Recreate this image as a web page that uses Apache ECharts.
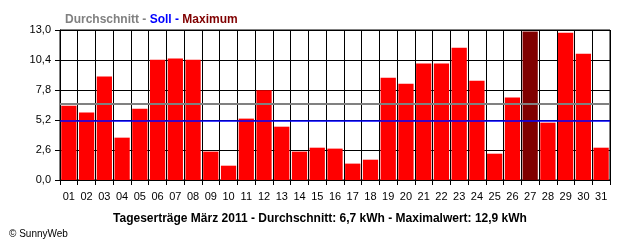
<!DOCTYPE html>
<html><head><meta charset="utf-8">
<script src="https://cdn.jsdelivr.net/npm/echarts@6/dist/echarts.min.js"></script>
<style>html,body{margin:0;padding:0;background:#fff}#c{width:640px;height:240px}</style>
</head><body><div id="c"></div>
<script>
var categories = ['01','02','03','04','05','06','07','08','09','10','11','12','13','14','15','16','17','18','19','20','21','22','23','24','25','26','27','28','29','30','31'];
var yields = [6.44,5.84,8.96,3.67,6.18,10.43,10.52,10.43,2.46,1.24,5.32,7.77,4.62,2.46,2.80,2.72,1.42,1.76,8.87,8.35,10.09,10.09,11.47,8.61,2.28,7.14,12.86,4.97,12.77,10.95,2.80];
var averageValue = 6.6;
var targetValue = 5.12;
var yTicks = [0, 2.6, 5.2, 7.8, 10.4, 13.0];
var titleText = 'Tageserträge März 2011 - Durchschnitt: 6,7 kWh - Maximalwert: 12,9 kWh';

var maxVal = Math.max.apply(null, yields);
var barData = yields.map(function(v){
  return {value: v, itemStyle: {color: v === maxVal ? '#800000' : '#ff0000'}};
});
var font = '"Liberation Sans", Arial, sans-serif';
var chart = echarts.init(document.getElementById('c'), null, {renderer:'canvas'});
chart.setOption({
  animation: false,
  backgroundColor: '#ffffff',
  textStyle: {fontFamily: font},
  title: [{
    left: 60, top: 9,
    text: '{a|Durchschnitt - }{b|Soll - }{c|Maximum}',
    textStyle: {
      rich: {
        a: {color:'#808080', fontWeight:'bold', fontSize:12, fontFamily: font},
        b: {color:'#0000ff', fontWeight:'bold', fontSize:12, fontFamily: font},
        c: {color:'#800000', fontWeight:'bold', fontSize:12, fontFamily: font}
      }
    }
  },{
    left: 'center', top: 208,
    text: titleText,
    textStyle: {color:'#000', fontWeight:'bold', fontSize:12, fontFamily: font}
  },{
    left: 4, top: 224,
    text: '© SunnyWeb',
    textStyle: {color:'#000', fontWeight:'normal', fontSize:10, fontFamily: font}
  }],
  grid: {left: 60, right: 30, top: 30, bottom: 60, show: true, borderColor:'#000', borderWidth:1},
  xAxis: {
    type: 'category',
    data: categories,
    boundaryGap: true,
    axisLine: {lineStyle:{color:'#000', width:1}},
    axisTick: {show:true, length:5, interval:0, lineStyle:{color:'#000'}},
    splitLine: {show:true, interval:0, lineStyle:{color:'#000', width:1}},
    axisLabel: {interval:0, color:'#000', fontSize:11, margin:11, fontFamily: font}
  },
  yAxis: {
    type: 'value',
    min: 0, max: 13, interval: 2.6,
    axisLine: {show:true, lineStyle:{color:'#000'}},
    axisTick: {show:true, length:5, lineStyle:{color:'#000'}},
    splitLine: {show:true, lineStyle:{color:'#000', width:1}},
    axisLabel: {color:'#000', fontSize:11, margin:9, fontFamily: font,
      formatter: function(v){ return v.toFixed(1).replace('.', ','); }}
  },
  series: [{
    type: 'bar',
    data: barData,
    barCategoryGap: '14%',
    markLine: {
      silent: true, symbol: 'none', label: {show:false},
      data: [
        {yAxis: averageValue, lineStyle:{color:'#808080', width:2, type:'solid'}},
        {yAxis: targetValue, lineStyle:{color:'#0000ff', width:1.5, type:'solid'}}
      ]
    }
  }]
});
</script></body></html>
